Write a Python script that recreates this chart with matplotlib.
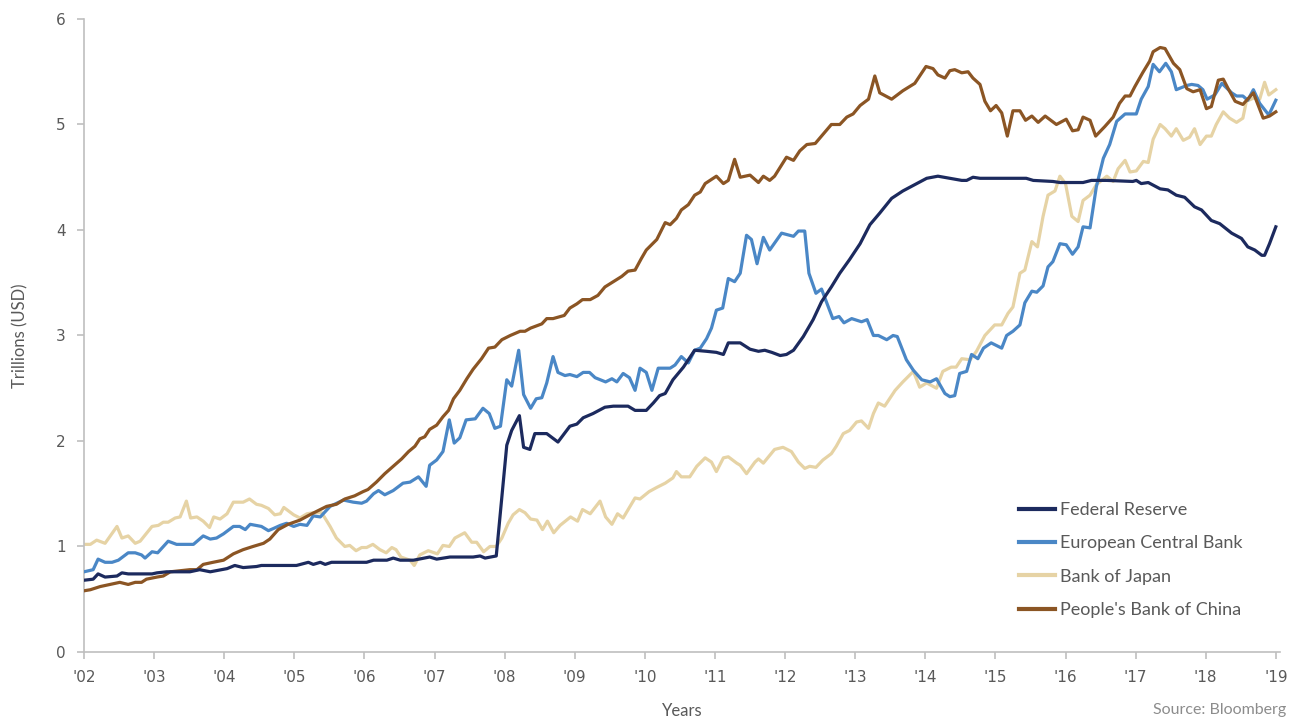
import matplotlib.pyplot as plt

# fractional years / trillions USD
fed_t = [2002.00, 2002.13, 2002.20, 2002.30, 2002.47, 2002.54, 2002.63, 2002.97, 2003.04, 2003.18,
         2003.51, 2003.65, 2003.80, 2004.04, 2004.15, 2004.27, 2004.46, 2004.53, 2005.03, 2005.20,
         2005.27, 2005.37, 2005.44, 2005.53, 2006.03, 2006.13, 2006.32, 2006.41, 2006.51, 2006.70,
         2006.93, 2007.03, 2007.22, 2007.55, 2007.65, 2007.72, 2007.88, 2008.03, 2008.10, 2008.21,
         2008.27, 2008.36, 2008.43, 2008.60, 2008.76, 2008.93, 2009.03, 2009.12, 2009.26, 2009.43,
         2009.55, 2009.76, 2009.86, 2010.02, 2010.12, 2010.21, 2010.29, 2010.40, 2010.55, 2010.71,
         2010.88, 2011.02, 2011.12, 2011.19, 2011.36, 2011.50, 2011.62, 2011.71, 2011.81, 2011.93,
         2012.02, 2012.12, 2012.26, 2012.40, 2012.52, 2012.66, 2012.78, 2012.92, 2013.07, 2013.21,
         2013.35, 2013.52, 2013.68, 2013.85, 2014.02, 2014.18, 2014.35, 2014.52, 2014.59, 2014.68,
         2014.78, 2015.44, 2015.54, 2015.82, 2015.92, 2016.25, 2016.37, 2016.59, 2016.96, 2017.01,
         2017.08, 2017.18, 2017.35, 2017.46, 2017.58, 2017.70, 2017.84, 2017.94, 2018.08, 2018.20,
         2018.37, 2018.51, 2018.60, 2018.70, 2018.80, 2018.84, 2018.91, 2019.00]
fed_v = [0.68, 0.69, 0.74, 0.71, 0.72, 0.75, 0.74, 0.74, 0.75, 0.76,
         0.76, 0.78, 0.76, 0.79, 0.82, 0.80, 0.81, 0.82, 0.82, 0.85,
         0.83, 0.85, 0.83, 0.85, 0.85, 0.87, 0.87, 0.89, 0.87, 0.87,
         0.90, 0.88, 0.90, 0.90, 0.91, 0.89, 0.91, 1.96, 2.10, 2.24,
         1.94, 1.92, 2.07, 2.07, 1.99, 2.14, 2.16, 2.22, 2.26, 2.32,
         2.33, 2.33, 2.29, 2.29, 2.36, 2.43, 2.45, 2.58, 2.70, 2.86,
         2.85, 2.84, 2.82, 2.93, 2.93, 2.87, 2.85, 2.86, 2.84, 2.81,
         2.82, 2.86, 2.99, 3.15, 3.32, 3.46, 3.59, 3.72, 3.87, 4.05,
         4.16, 4.30, 4.37, 4.43, 4.49, 4.51, 4.49, 4.47, 4.47, 4.50,
         4.49, 4.49, 4.47, 4.46, 4.45, 4.45, 4.47, 4.47, 4.46, 4.47,
         4.44, 4.45, 4.39, 4.38, 4.33, 4.31, 4.22, 4.19, 4.09, 4.06,
         3.97, 3.92, 3.84, 3.81, 3.76, 3.76, 3.87, 4.03]

ecb_t = [2002.00, 2002.13, 2002.20, 2002.30, 2002.40, 2002.49, 2002.63, 2002.73, 2002.82, 2002.87,
         2002.97, 2003.05, 2003.20, 2003.32, 2003.56, 2003.70, 2003.80, 2003.89, 2003.99, 2004.13,
         2004.22, 2004.30, 2004.37, 2004.53, 2004.63, 2004.70, 2004.80, 2004.89, 2004.99, 2005.08,
         2005.18, 2005.27, 2005.37, 2005.51, 2005.70, 2005.84, 2005.96, 2006.03, 2006.13, 2006.20,
         2006.29, 2006.41, 2006.55, 2006.65, 2006.77, 2006.88, 2006.93, 2007.03, 2007.12, 2007.21,
         2007.28, 2007.36, 2007.45, 2007.58, 2007.69, 2007.78, 2007.86, 2007.94, 2008.03, 2008.10,
         2008.20, 2008.27, 2008.37, 2008.45, 2008.53, 2008.60, 2008.69, 2008.76, 2008.86, 2008.93,
         2009.03, 2009.12, 2009.21, 2009.29, 2009.44, 2009.53, 2009.60, 2009.69, 2009.78, 2009.86,
         2009.93, 2010.02, 2010.10, 2010.19, 2010.36, 2010.43, 2010.52, 2010.62, 2010.71, 2010.79,
         2010.88, 2010.95, 2011.02, 2011.11, 2011.19, 2011.28, 2011.36, 2011.45, 2011.52, 2011.60,
         2011.69, 2011.78, 2011.95, 2012.12, 2012.19, 2012.28, 2012.34, 2012.44, 2012.52, 2012.68,
         2012.77, 2012.84, 2012.95, 2013.09, 2013.17, 2013.26, 2013.33, 2013.45, 2013.54, 2013.60,
         2013.73, 2013.83, 2013.95, 2014.07, 2014.16, 2014.28, 2014.35, 2014.42, 2014.49, 2014.59,
         2014.66, 2014.75, 2014.83, 2014.94, 2015.09, 2015.16, 2015.25, 2015.35, 2015.42, 2015.52,
         2015.59, 2015.68, 2015.75, 2015.82, 2015.92, 2016.01, 2016.10, 2016.18, 2016.25, 2016.35,
         2016.44, 2016.54, 2016.63, 2016.73, 2016.85, 2017.01, 2017.08, 2017.18, 2017.25, 2017.34,
         2017.43, 2017.51, 2017.58, 2017.73, 2017.80, 2017.89, 2017.96, 2018.02, 2018.13, 2018.23,
         2018.37, 2018.44, 2018.53, 2018.60, 2018.68, 2018.77, 2018.90, 2019.00]
ecb_v = [0.76, 0.78, 0.88, 0.85, 0.85, 0.87, 0.94, 0.94, 0.92, 0.89,
         0.95, 0.94, 1.05, 1.02, 1.02, 1.10, 1.07, 1.08, 1.12, 1.19,
         1.19, 1.16, 1.21, 1.19, 1.15, 1.17, 1.20, 1.22, 1.19, 1.21,
         1.20, 1.29, 1.28, 1.38, 1.44, 1.42, 1.41, 1.43, 1.50, 1.53,
         1.49, 1.53, 1.60, 1.61, 1.66, 1.57, 1.77, 1.82, 1.90, 2.20,
         1.98, 2.03, 2.20, 2.21, 2.31, 2.26, 2.12, 2.14, 2.58, 2.52,
         2.86, 2.44, 2.31, 2.40, 2.41, 2.55, 2.80, 2.65, 2.62, 2.63,
         2.61, 2.65, 2.65, 2.60, 2.56, 2.59, 2.56, 2.64, 2.60, 2.48,
         2.69, 2.65, 2.48, 2.69, 2.69, 2.72, 2.80, 2.74, 2.86, 2.88,
         2.97, 3.07, 3.24, 3.26, 3.54, 3.51, 3.59, 3.95, 3.91, 3.68,
         3.93, 3.81, 3.97, 3.94, 3.99, 3.99, 3.59, 3.40, 3.44, 3.16,
         3.18, 3.12, 3.16, 3.13, 3.15, 3.00, 3.00, 2.96, 3.00, 2.99,
         2.77, 2.67, 2.58, 2.56, 2.59, 2.45, 2.42, 2.43, 2.64, 2.66,
         2.82, 2.78, 2.88, 2.93, 2.88, 3.00, 3.04, 3.10, 3.31, 3.42,
         3.41, 3.47, 3.65, 3.70, 3.87, 3.86, 3.77, 3.84, 4.03, 4.02,
         4.41, 4.68, 4.81, 5.03, 5.10, 5.10, 5.24, 5.36, 5.57, 5.50,
         5.58, 5.50, 5.33, 5.37, 5.38, 5.37, 5.33, 5.24, 5.28, 5.39,
         5.30, 5.27, 5.27, 5.23, 5.33, 5.20, 5.09, 5.23]

boj_t = [2002.00, 2002.09, 2002.18, 2002.30, 2002.47, 2002.54, 2002.63, 2002.73, 2002.80, 2002.97,
         2003.06, 2003.13, 2003.20, 2003.30, 2003.37, 2003.46, 2003.52, 2003.61, 2003.70, 2003.79,
         2003.85, 2003.94, 2004.04, 2004.13, 2004.27, 2004.36, 2004.46, 2004.53, 2004.63, 2004.72,
         2004.80, 2004.85, 2004.99, 2005.08, 2005.18, 2005.27, 2005.39, 2005.51, 2005.60, 2005.72,
         2005.79, 2005.88, 2005.96, 2006.03, 2006.12, 2006.22, 2006.31, 2006.39, 2006.45, 2006.52,
         2006.65, 2006.71, 2006.79, 2006.91, 2007.04, 2007.12, 2007.21, 2007.29, 2007.43, 2007.53,
         2007.60, 2007.70, 2007.79, 2007.88, 2007.96, 2008.05, 2008.12, 2008.21, 2008.29, 2008.37,
         2008.46, 2008.54, 2008.61, 2008.70, 2008.79, 2008.94, 2009.04, 2009.11, 2009.22, 2009.36,
         2009.44, 2009.53, 2009.61, 2009.69, 2009.86, 2009.93, 2010.06, 2010.17, 2010.29, 2010.40,
         2010.45, 2010.52, 2010.64, 2010.74, 2010.86, 2010.95, 2011.02, 2011.12, 2011.19, 2011.31,
         2011.36, 2011.45, 2011.57, 2011.62, 2011.69, 2011.85, 2011.97, 2012.09, 2012.19, 2012.28,
         2012.35, 2012.44, 2012.54, 2012.66, 2012.73, 2012.83, 2012.92, 2013.02, 2013.09, 2013.19,
         2013.26, 2013.33, 2013.42, 2013.57, 2013.68, 2013.83, 2013.92, 2014.02, 2014.16, 2014.25,
         2014.37, 2014.44, 2014.52, 2014.64, 2014.73, 2014.85, 2014.99, 2015.09, 2015.18, 2015.25,
         2015.35, 2015.42, 2015.52, 2015.60, 2015.68, 2015.75, 2015.85, 2015.92, 2016.00, 2016.09,
         2016.18, 2016.25, 2016.35, 2016.44, 2016.59, 2016.68, 2016.75, 2016.85, 2016.92, 2017.01,
         2017.11, 2017.18, 2017.25, 2017.35, 2017.42, 2017.51, 2017.58, 2017.68, 2017.77, 2017.84,
         2017.92, 2018.01, 2018.08, 2018.15, 2018.25, 2018.34, 2018.44, 2018.53, 2018.58, 2018.68,
         2018.77, 2018.84, 2018.90, 2019.00]
boj_v = [1.02, 1.02, 1.06, 1.03, 1.19, 1.08, 1.10, 1.03, 1.05, 1.19,
         1.20, 1.23, 1.23, 1.27, 1.28, 1.43, 1.27, 1.28, 1.24, 1.18,
         1.28, 1.26, 1.31, 1.42, 1.42, 1.45, 1.40, 1.39, 1.36, 1.30,
         1.31, 1.37, 1.30, 1.27, 1.31, 1.32, 1.32, 1.19, 1.08, 1.00,
         1.01, 0.96, 0.99, 0.99, 1.02, 0.97, 0.94, 0.99, 0.97, 0.90,
         0.87, 0.82, 0.92, 0.96, 0.93, 1.01, 1.00, 1.08, 1.13, 1.04,
         1.04, 0.95, 1.00, 1.00, 1.08, 1.22, 1.30, 1.35, 1.32, 1.26,
         1.25, 1.16, 1.24, 1.13, 1.20, 1.28, 1.24, 1.35, 1.31, 1.43,
         1.28, 1.21, 1.31, 1.27, 1.46, 1.45, 1.52, 1.56, 1.60, 1.65,
         1.71, 1.66, 1.66, 1.76, 1.84, 1.80, 1.71, 1.84, 1.85, 1.79,
         1.77, 1.69, 1.80, 1.83, 1.79, 1.92, 1.94, 1.90, 1.80, 1.74,
         1.76, 1.75, 1.82, 1.88, 1.95, 2.07, 2.10, 2.18, 2.19, 2.12,
         2.26, 2.36, 2.33, 2.48, 2.56, 2.66, 2.51, 2.55, 2.50, 2.66,
         2.70, 2.70, 2.78, 2.77, 2.85, 3.00, 3.10, 3.10, 3.21, 3.27,
         3.59, 3.62, 3.89, 3.84, 4.13, 4.33, 4.37, 4.51, 4.44, 4.13,
         4.08, 4.28, 4.33, 4.43, 4.51, 4.46, 4.58, 4.66, 4.55, 4.56,
         4.65, 4.64, 4.86, 5.00, 4.96, 4.89, 4.96, 4.85, 4.88, 4.96,
         4.81, 4.89, 4.89, 5.00, 5.12, 5.06, 5.02, 5.06, 5.22, 5.25,
         5.24, 5.40, 5.28, 5.33]

pboc_t = [2002.00, 2002.09, 2002.23, 2002.37, 2002.51, 2002.63, 2002.73, 2002.82, 2002.89, 2003.04,
          2003.13, 2003.23, 2003.37, 2003.51, 2003.61, 2003.70, 2003.84, 2003.99, 2004.13, 2004.27,
          2004.41, 2004.56, 2004.65, 2004.77, 2004.91, 2005.08, 2005.22, 2005.34, 2005.46, 2005.60,
          2005.72, 2005.86, 2005.98, 2006.05, 2006.17, 2006.29, 2006.41, 2006.53, 2006.63, 2006.72,
          2006.79, 2006.86, 2006.93, 2007.03, 2007.12, 2007.20, 2007.27, 2007.36, 2007.46, 2007.55,
          2007.67, 2007.77, 2007.86, 2007.96, 2008.08, 2008.22, 2008.29, 2008.37, 2008.53, 2008.60,
          2008.69, 2008.85, 2008.93, 2009.03, 2009.11, 2009.22, 2009.33, 2009.43, 2009.55, 2009.67,
          2009.76, 2009.86, 2009.95, 2010.02, 2010.17, 2010.29, 2010.36, 2010.45, 2010.52, 2010.62,
          2010.71, 2010.79, 2010.86, 2011.02, 2011.12, 2011.19, 2011.28, 2011.36, 2011.50, 2011.62,
          2011.69, 2011.78, 2011.85, 2012.02, 2012.12, 2012.21, 2012.31, 2012.43, 2012.52, 2012.66,
          2012.78, 2012.88, 2012.97, 2013.07, 2013.19, 2013.28, 2013.35, 2013.52, 2013.68, 2013.85,
          2014.01, 2014.11, 2014.18, 2014.28, 2014.35, 2014.42, 2014.52, 2014.61, 2014.68, 2014.78,
          2014.85, 2014.93, 2015.01, 2015.09, 2015.17, 2015.25, 2015.35, 2015.43, 2015.52, 2015.61,
          2015.71, 2015.87, 2016.01, 2016.10, 2016.18, 2016.25, 2016.35, 2016.43, 2016.56, 2016.68,
          2016.77, 2016.85, 2016.92, 2016.99, 2017.10, 2017.20, 2017.25, 2017.35, 2017.42, 2017.54,
          2017.63, 2017.73, 2017.82, 2017.92, 2018.01, 2018.08, 2018.18, 2018.25, 2018.32, 2018.42,
          2018.53, 2018.68, 2018.82, 2018.91, 2019.00]
pboc_v = [0.58, 0.59, 0.62, 0.64, 0.66, 0.64, 0.66, 0.66, 0.69, 0.71,
          0.72, 0.76, 0.77, 0.78, 0.78, 0.83, 0.85, 0.87, 0.93, 0.97,
          1.00, 1.03, 1.07, 1.16, 1.21, 1.25, 1.30, 1.34, 1.38, 1.40,
          1.45, 1.48, 1.52, 1.54, 1.61, 1.69, 1.76, 1.83, 1.90, 1.95,
          2.02, 2.04, 2.11, 2.15, 2.23, 2.29, 2.40, 2.48, 2.59, 2.68,
          2.78, 2.88, 2.89, 2.96, 3.00, 3.04, 3.04, 3.07, 3.11, 3.16,
          3.16, 3.19, 3.26, 3.30, 3.34, 3.34, 3.38, 3.46, 3.51, 3.56,
          3.61, 3.62, 3.73, 3.81, 3.91, 4.07, 4.05, 4.11, 4.19, 4.24,
          4.33, 4.36, 4.44, 4.51, 4.44, 4.47, 4.67, 4.50, 4.52, 4.45,
          4.51, 4.47, 4.51, 4.69, 4.66, 4.75, 4.81, 4.82, 4.89, 5.00,
          5.00, 5.07, 5.10, 5.18, 5.24, 5.46, 5.30, 5.24, 5.32, 5.39,
          5.55, 5.53, 5.47, 5.44, 5.51, 5.52, 5.49, 5.50, 5.44, 5.38,
          5.22, 5.13, 5.18, 5.11, 4.89, 5.13, 5.13, 5.04, 5.08, 5.02,
          5.08, 5.00, 5.05, 4.94, 4.95, 5.07, 5.04, 4.89, 4.98, 5.07,
          5.20, 5.27, 5.27, 5.36, 5.49, 5.60, 5.69, 5.73, 5.72, 5.58,
          5.52, 5.34, 5.31, 5.33, 5.15, 5.17, 5.42, 5.43, 5.34, 5.22,
          5.19, 5.30, 5.06, 5.08, 5.12]

years = list(range(2002, 2020))
year_labels = ["'%02d" % (y % 100) for y in years]

text_col = '#595959'
axis_col = '#bfbfbf'

fig = plt.figure(figsize=(12.91, 7.17), dpi=100)
ax = fig.add_axes([0.0651, 0.0907, 0.9264, 0.8828])

ax.plot(fed_t, fed_v, color='#1c2a5e', lw=2.3, label='Federal Reserve', zorder=4)
ax.plot(ecb_t, ecb_v, color='#4a87c6', lw=2.3, label='European Central Bank', zorder=3)
ax.plot(boj_t, boj_v, color='#e6d3a5', lw=2.3, label='Bank of Japan', zorder=2)
ax.plot(pboc_t, pboc_v, color='#8b5524', lw=2.3, label="People's Bank of China", zorder=3)

ax.set_xlim(2002, 2019.06)
ax.set_ylim(0, 6)
ax.set_xticks(years)
ax.set_xticklabels(year_labels)
ax.set_yticks(range(0, 7))

for s in ['top', 'right']:
    ax.spines[s].set_visible(False)
for s in ['left', 'bottom']:
    ax.spines[s].set_color(axis_col)
    ax.spines[s].set_linewidth(1.2)
ax.tick_params(axis='both', colors=axis_col, length=5, width=1.2, labelcolor=text_col,
               labelsize=11)
ax.tick_params(axis='x', pad=8)
ax.tick_params(axis='y', pad=8)

ax.set_ylabel('Trillions (USD)', fontsize=12, color=text_col, family='Lato', labelpad=20)
ax.set_xlabel('Years', fontsize=12, color=text_col, family='Lato', labelpad=13)
fig.text(0.9965, 0.0, 'Source: Bloomberg', ha='right', va='bottom', fontsize=11.5,
         color='#8c8c8c', family='Lato')

leg = ax.legend(loc='upper left', bbox_to_anchor=(0.782, 0.237), frameon=False,
                prop={'family': 'Lato', 'size': 13}, handlelength=1.95, handletextpad=0.3,
                labelspacing=0.96, borderpad=0, borderaxespad=0)
for t in leg.get_texts():
    t.set_color(text_col)
for h in leg.get_lines():
    h.set_linewidth(3)

plt.savefig('out.png', dpi=100)
